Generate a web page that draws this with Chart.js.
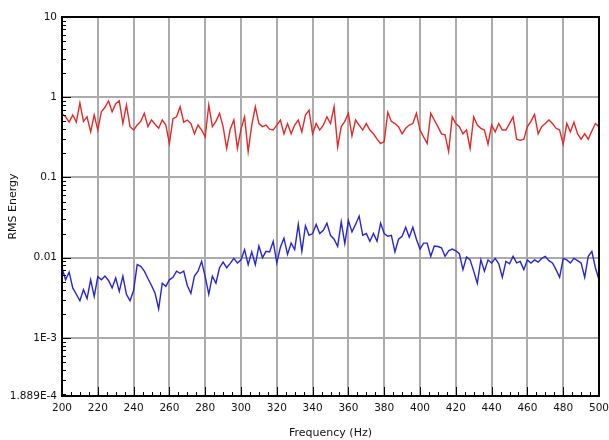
<!DOCTYPE html>
<html>
<head>
<meta charset="utf-8">
<script src="https://cdn.jsdelivr.net/npm/chart.js@4.4.1/dist/chart.umd.min.js"></script>
<style>
  html,body{margin:0;padding:0;background:#fff;}
  #wrap{width:609px;height:440px;}
</style>
</head>
<body>
<div id="wrap"><canvas id="rms" width="609" height="440"></canvas></div>
<script>
// ------------------ DATA ------------------
// frequency grid: 200..500 Hz, one sample every 2 Hz
const freqStart = 200, freqStep = 2, freqCount = 151;
const freqs = Array.from({length:freqCount}, (_,i)=>freqStart+i*freqStep);

// upper (red) trace
const redSeries = [
  0.62,0.57,0.49,0.60,0.49,0.85,0.50,0.57,0.37,0.60,
  0.39,0.66,0.75,0.90,0.66,0.83,0.90,0.47,0.80,0.43,
  0.39,0.45,0.50,0.63,0.43,0.52,0.46,0.41,0.52,0.45,
  0.265,0.54,0.57,0.76,0.49,0.52,0.47,0.35,0.45,0.39,
  0.32,0.80,0.43,0.50,0.63,0.43,0.23,0.40,0.52,0.23,
  0.40,0.57,0.21,0.45,0.76,0.47,0.43,0.45,0.40,0.39,
  0.45,0.52,0.35,0.47,0.35,0.45,0.52,0.37,0.60,0.69,
  0.35,0.47,0.39,0.45,0.57,0.47,0.76,0.24,0.43,0.50,
  0.63,0.33,0.52,0.45,0.39,0.47,0.39,0.35,0.30,0.265,
  0.28,0.65,0.50,0.47,0.43,0.35,0.41,0.45,0.47,0.63,
  0.39,0.32,0.265,0.63,0.52,0.43,0.35,0.34,0.21,0.57,
  0.47,0.43,0.35,0.39,0.23,0.57,0.45,0.41,0.39,0.26,
  0.45,0.37,0.47,0.39,0.39,0.47,0.57,0.30,0.29,0.30,
  0.43,0.50,0.61,0.35,0.43,0.47,0.52,0.47,0.41,0.39,
  0.26,0.47,0.37,0.49,0.35,0.30,0.35,0.30,0.38,0.47,
  0.43
];

// lower (blue) trace
const blueSeries = [
  0.0075,0.0053,0.0066,0.0042,0.0035,0.0029,0.0040,0.0031,0.0053,0.0033,
  0.0058,0.0053,0.0059,0.0052,0.0042,0.0056,0.0038,0.0059,0.0035,0.0029,
  0.0039,0.0082,0.0078,0.0068,0.0055,0.0045,0.0036,0.0023,0.0048,0.0044,
  0.0053,0.0057,0.0068,0.0064,0.0068,0.0045,0.0036,0.0059,0.0068,0.0090,
  0.0058,0.0035,0.0059,0.0048,0.0075,0.0088,0.0075,0.0085,0.0098,0.0086,
  0.0094,0.0126,0.0082,0.0118,0.0082,0.0140,0.0100,0.0120,0.0118,0.0160,
  0.0086,0.0135,0.0175,0.0110,0.0152,0.0126,0.0260,0.0120,0.0250,0.0190,
  0.0200,0.0260,0.0200,0.0220,0.0270,0.0190,0.0170,0.0138,0.0280,0.0150,
  0.0290,0.0210,0.0260,0.0330,0.0190,0.0200,0.0160,0.0200,0.0160,0.0270,
  0.0200,0.0185,0.0190,0.0118,0.0170,0.0185,0.0240,0.0180,0.0240,0.0170,
  0.0128,0.0152,0.0152,0.0104,0.0140,0.0138,0.0133,0.0104,0.0122,0.0128,
  0.0122,0.0112,0.0071,0.0102,0.0094,0.0068,0.0048,0.0094,0.0068,0.0094,
  0.0086,0.0098,0.0084,0.0057,0.0090,0.0084,0.0104,0.0086,0.0090,0.0071,
  0.0094,0.0086,0.0094,0.0088,0.0098,0.0104,0.0092,0.0086,0.0071,0.0057,
  0.0098,0.0094,0.0086,0.0098,0.0092,0.0086,0.0057,0.0104,0.0120,0.0075,
  0.0053
];

// axis ticks
const xMin = 200, xMax = 500, xStep = 20, xMinorStep = 5;
const yTickValues = [1.889e-4, 1e-3, 1e-2, 1e-1, 1, 10];
const yTickLabels = ["1.889E-4", "1E-3", "0.01", "0.1", "1", "10"];

// ------------------ PLUGINS ------------------
// tick marks pointing into the plot + black frame
const innerTicks = {
  id:"innerTicks",
  afterDatasetsDraw(chart){
    const {ctx, chartArea:a, scales:{x, y}} = chart;
    ctx.save();
    ctx.strokeStyle = "#000";
    ctx.lineWidth = 1;
    ctx.beginPath();
    for(let f=xMin; f<=xMax; f+=xMinorStep){
      const px = Math.round(x.getPixelForValue(f))+0.5;
      const len = (f % xStep === 0) ? 9 : 4;
      ctx.moveTo(px, a.bottom); ctx.lineTo(px, a.bottom-len);
    }
    for(let d=-4; d<=0; d++){
      for(let m=1; m<=9; m++){
        const v = m*Math.pow(10,d);
        if(v < y.min || v > y.max) continue;
        const py = Math.round(y.getPixelForValue(v))+0.5;
        const len = m===1 ? 9 : 4;
        ctx.moveTo(a.left, py); ctx.lineTo(a.left+len, py);
      }
    }
    ctx.stroke();
    ctx.lineWidth = 2;
    ctx.strokeRect(a.left, a.top, a.right-a.left, a.bottom-a.top);
    ctx.restore();
  }
};

// ------------------ CHART ------------------
const tickFont = {family:"'DejaVu Sans', sans-serif", size:10.5};
const titleFont = {family:"'DejaVu Sans', sans-serif", size:11};

new Chart(document.getElementById("rms").getContext("2d"),{
  type:"line",
  data:{
    labels: freqs,
    datasets:[
      {data: redSeries, borderColor:"#e02a2a", borderWidth:1.4, pointRadius:0, tension:0, fill:false},
      {data: blueSeries, borderColor:"#2626cc", borderWidth:1.4, pointRadius:0, tension:0, fill:false}
    ]
  },
  options:{
    responsive:false,
    animation:false,
    layout:{padding:{left:0, top:17, right:0, bottom:0}},
    plugins:{legend:{display:false}, tooltip:{enabled:false}},
    scales:{
      x:{
        type:"linear",
        min:xMin, max:xMax,
        ticks:{stepSize:xStep, font:tickFont, color:"#111", padding:6, maxRotation:0},
        grid:{color:"#ababab", lineWidth:2, drawTicks:false},
        border:{display:false},
        title:{display:true, text:"Frequency (Hz)", font:titleFont, color:"#111", padding:{top:0,bottom:0}},
        afterFit(s){ s.height = 44; s.paddingRight = 10; }
      },
      y:{
        type:"logarithmic",
        min:yTickValues[0], max:yTickValues[yTickValues.length-1],
        afterBuildTicks(s){ s.ticks = yTickValues.map(v=>({value:v})); },
        ticks:{font:tickFont, color:"#111", padding:5,
          callback:(v)=>{ const i = yTickValues.indexOf(v); return i<0 ? "" : yTickLabels[i]; }},
        grid:{color:"#ababab", lineWidth:2, drawTicks:false},
        border:{display:false},
        title:{display:true, text:"RMS Energy", font:titleFont, color:"#111", padding:{top:7,bottom:0}},
        afterFit(s){ s.width = 62; }
      }
    }
  },
  plugins:[innerTicks]
});
</script>
</body>
</html>
